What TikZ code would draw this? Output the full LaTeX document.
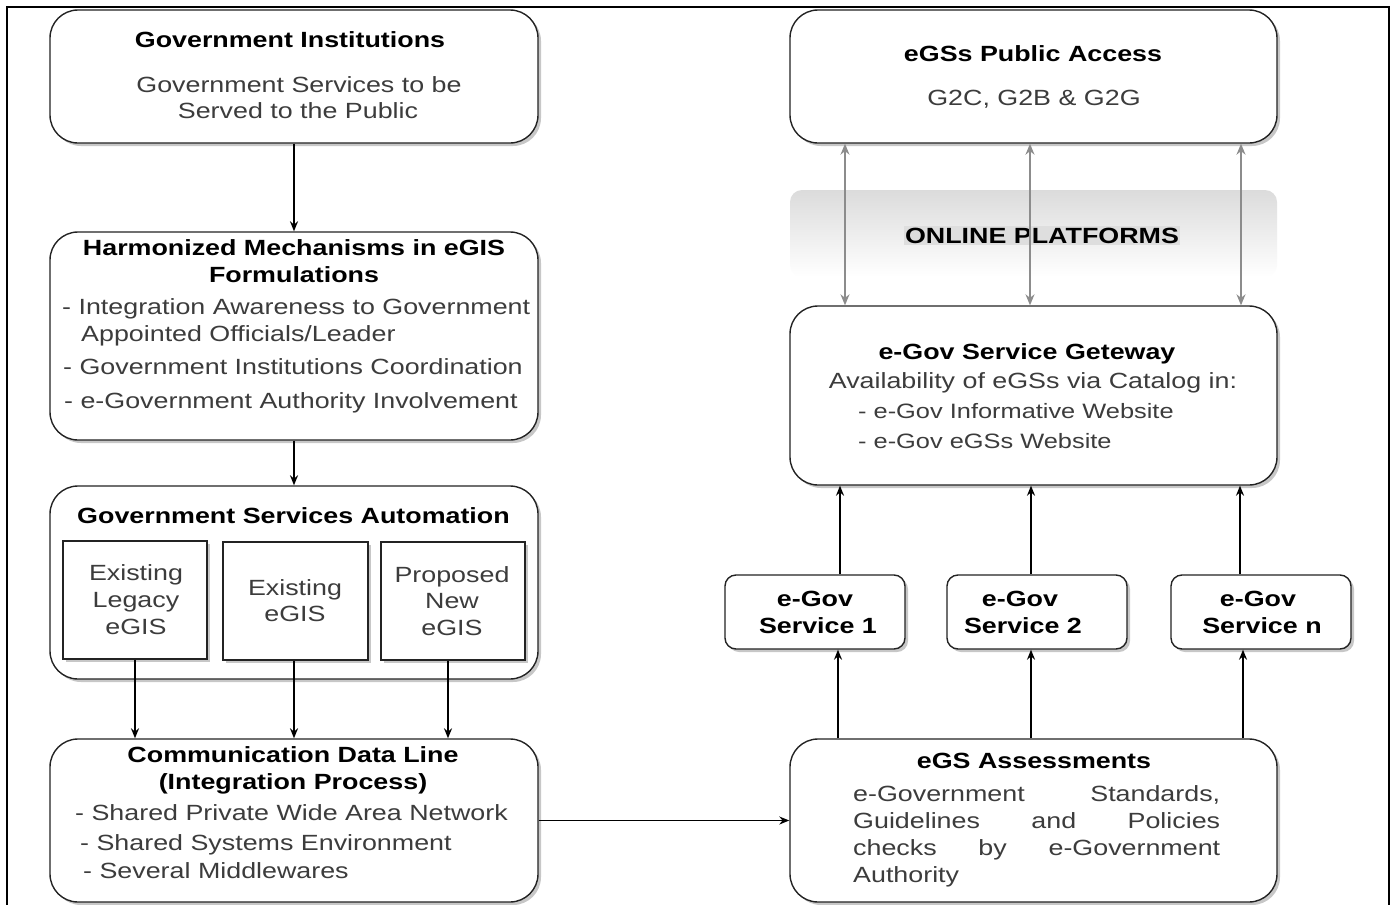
\documentclass[tikz,border=0pt]{standalone}
\usepackage{fontspec}
\setmainfont{Liberation Sans}[FakeStretch=1.22]
\usetikzlibrary{arrows.meta,shadows,calc}
\definecolor{bodyc}{RGB}{60,60,60}
\definecolor{linec}{RGB}{35,35,35}
\definecolor{grayarr}{RGB}{140,140,140}
\newcommand\myfs{\fontsize{22}{27}\selectfont}
\newcommand\mysmallfs{\fontsize{20.8}{26}\selectfont}
\begin{document}
\begin{tikzpicture}[x=1pt,y=-1pt,
  shad/.style={drop shadow={shadow xshift=3pt,shadow yshift=-3pt,fill=black,opacity=0.22}},
  bigbox/.style={draw=linec,line width=1.4pt,fill=white,rounded corners=28pt,inner sep=0pt,shad},
  svcbox/.style={draw=linec,line width=1.4pt,fill=white,rounded corners=11pt,inner sep=0pt,shad},
  sqbox/.style={draw=linec,line width=1.4pt,fill=white,inner sep=0pt,shad},
  tl/.style={anchor=base west,inner sep=0pt,font=\myfs,text=bodyc},
  tls/.style={anchor=base west,inner sep=0pt,font=\mysmallfs,text=bodyc},
  tc/.style={anchor=base,inner sep=0pt,font=\myfs,text=bodyc},
  ttl/.style={anchor=base,inner sep=0pt,font=\myfs\bfseries,text=black},
  arr/.style={draw=black,line width=1.5pt,-{Stealth[length=10pt,width=8pt]}},
  garr/.style={draw=grayarr,line width=1.3pt,{Stealth[length=11pt,width=9pt]}-{Stealth[length=11pt,width=9pt]}}
]
\useasboundingbox (0,0) rectangle (1393,905);
\fill[white] (0,0) rectangle (1393,905);
\draw[line width=2pt,black] (7,905) -- (7,7) -- (1389,7) -- (1389,905);

% ---------- left column boxes ----------
\node[bigbox,minimum width=488pt,minimum height=133pt] (gi) at (294,76.5) {};
\node[bigbox,minimum width=488pt,minimum height=208pt] (harm) at (294,336) {};
\node[bigbox,minimum width=488pt,minimum height=193pt] (gsa) at (294,582.5) {};
\node[sqbox,minimum width=144pt,minimum height=118pt] (ex1) at (135,600) {};
\node[sqbox,minimum width=145pt,minimum height=118pt] (ex2) at (295.5,601) {};
\node[sqbox,minimum width=144pt,minimum height=118pt] (ex3) at (453,601) {};
\node[bigbox,minimum width=488pt,minimum height=163pt] (comm) at (294,820.5) {};

% ---------- right column boxes ----------
\node[bigbox,minimum width=487pt,minimum height=133pt] (pub) at (1033.5,76.5) {};
\shade[top color=black!14,bottom color=white,rounded corners=12pt] (790,190) rectangle (1277,277);
\node[bigbox,minimum width=487pt,minimum height=179pt] (gw) at (1033.5,395.5) {};
\node[svcbox,minimum width=180pt,minimum height=74pt] (s1) at (815,612) {};
\node[svcbox,minimum width=180pt,minimum height=74pt] (s2) at (1037,612) {};
\node[svcbox,minimum width=180pt,minimum height=74pt] (sn) at (1261,612) {};
\node[bigbox,minimum width=487pt,minimum height=163pt] (ass) at (1033.5,820.5) {};

% ---------- texts left ----------
\node[ttl] (t1) at (290,47) {Government Institutions};
\node[tc] (t2) at (299,92) {Government Services to be};
\node[tc] (t3) at (298,118) {Served to the Public};

\node[ttl] (t4) at (294,255) {Harmonized Mechanisms in eGIS};
\node[ttl] (t5) at (294,282) {Formulations};
\node[tl] (t6) at (62,314) {- Integration Awareness to Government};
\node[tl] (t7) at (81,341) {Appointed Officials/Leader};
\node[tl] (t8) at (63,374) {- Government Institutions Coordination};
\node[tl] (t9) at (64,408) {- e-Government Authority Involvement};

\node[ttl] (t10) at (293.5,523) {Government Services Automation};
\node[tc] (t11) at (136,580) {Existing};
\node[tc] (t12) at (136,607) {Legacy};
\node[tc] (t13) at (136,634) {eGIS};
\node[tc] (t14) at (295,595) {Existing};
\node[tc] (t15) at (295,621) {eGIS};
\node[tc] (t16) at (452,582) {Proposed};
\node[tc] (t17) at (452,608) {New};
\node[tc] (t18) at (452,635) {eGIS};

\node[ttl] (t19) at (293,762) {Communication Data Line};
\node[ttl] (t20) at (293,789) {(Integration Process)};
\node[tl] (t21) at (75,820) {- Shared Private Wide Area Network};
\node[tl] (t22) at (80,850) {- Shared Systems Environment};
\node[tl] (t23) at (83,878) {- Several Middlewares};

% ---------- texts right ----------
\node[ttl] (t24) at (1033,61) {eGSs Public Access};
\node[tc] (t25) at (1034,105) {G2C, G2B \& G2G};
\node[ttl,fill=black!13,inner sep=1.5pt] (t26) at (1042,243) {ONLINE PLATFORMS};

\node[ttl] (t27) at (1027,359) {e-Gov Service Geteway};
\node[tc] (t28) at (1033,388) {Availability of eGSs via Catalog in:};
\node[tls] (t29) at (858,418) {- e-Gov Informative Website};
\node[tls] (t30) at (858,448) {- e-Gov eGSs Website};

\node[ttl] (t31) at (815,606) {e-Gov};
\node[ttl] (t32) at (818,633) {Service 1};
\node[ttl] (t33) at (1020,606) {e-Gov};
\node[ttl] (t34) at (1023,633) {Service 2};
\node[ttl] (t35) at (1258,606) {e-Gov};
\node[ttl] (t36) at (1262,633) {Service n};

\node[ttl] (t37) at (1034,768) {eGS Assessments};
\node[tl] (t38) at (853,801) {\hbox to 367pt{e-Government\hfill Standards,}};
\node[tl] (t39) at (853,828) {\hbox to 367pt{Guidelines\hfill and\hfill Policies}};
\node[tl] (t40) at (853,855) {\hbox to 367pt{checks\hfill by\hfill e-Government}};
\node[tl] (t41) at (853,882) {Authority};

% ---------- helper coordinates ----------
\coordinate (x3) at (448,0);
\coordinate (ca) at (838,0);
\coordinate (cb) at (1031,0);
\coordinate (cc) at (1243,0);
\coordinate (ua) at (840,0);
\coordinate (ub) at (1031,0);
\coordinate (uc) at (1240,0);
\coordinate (ga) at (845,0);
\coordinate (gb) at (1030,0);
\coordinate (gc) at (1241,0);

% ---------- connectors ----------
\draw[arr] (gi.south) -- (harm.north);
\draw[arr] (harm.south) -- (gsa.north);
\draw[arr] (ex1.south) -- (comm.north -| ex1.south);
\draw[arr] (ex2.south -| gi.south) -- (comm.north -| gi.south);
\draw[arr] (ex3.south -| x3) -- (comm.north -| x3);
\draw[arr] (comm.east) -- (ass.west);

\draw[arr] (ass.north -| ca) -- (s1.south -| ca);
\draw[arr] (ass.north -| cb) -- (s2.south -| cb);
\draw[arr] (ass.north -| cc) -- (sn.south -| cc);
\draw[arr] (s1.north -| ua) -- (gw.south -| ua);
\draw[arr] (s2.north -| ub) -- (gw.south -| ub);
\draw[arr] (sn.north -| uc) -- (gw.south -| uc);

\draw[garr] (pub.south -| ga) -- (gw.north -| ga);
\draw[garr] (pub.south -| gb) -- (gw.north -| gb);
\draw[garr] (pub.south -| gc) -- (gw.north -| gc);
\end{tikzpicture}
\end{document}
